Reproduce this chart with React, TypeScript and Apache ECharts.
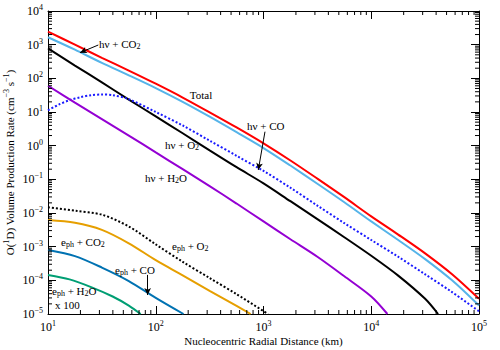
import React, { useEffect, useRef } from "react";
import * as echarts from "echarts";

const FONT = "Liberation Serif";

// x sample positions (km)
const X_MAIN = [10, 17.78, 31.62, 56.23, 100, 177.8, 316.2, 562.3, 1000, 1778, 3162, 5623, 10000, 17783, 31623, 56234, 100000];
const TOTAL = [2455, 1000, 407, 170, 69.2, 26.9, 9.77, 3.47, 1.17, 0.363, 0.105, 0.0295, 7.94e-3, 2.29e-3, 6.31e-4, 1.51e-4, 2.82e-5];
const HV_CO2 = [1660, 708, 288, 123, 51.3, 19.95, 7.24, 2.51, 0.851, 0.257, 0.0741, 0.0209, 5.62e-3, 1.58e-3, 4.27e-4, 1.0e-4, 1.78e-5];

const X_O2 = [10, 17.78, 31.62, 56.23, 100, 177.8, 316.2, 562.3, 1000, 1778, 3162, 5623, 10000, 17783, 31623, 41700];
const HV_O2 = [776, 240, 75.9, 23.4, 7.41, 2.34, 0.724, 0.229, 0.0759, 0.0224, 6.61e-3, 1.91e-3, 5.37e-4, 1.38e-4, 2.82e-5, 1.0e-5];

const X_CO = [10, 12.59, 15.85, 19.95, 25.12, 31.62, 39.81, 56.23, 100, 177.8, 316.2, 562.3, 1000, 1778, 3162, 5623, 10000, 17783, 31623, 56234, 100000];
const HV_CO = [11.2, 16.6, 22.4, 27.5, 31.6, 33.1, 31.6, 24.0, 10.0, 3.98, 1.41, 0.501, 0.178, 0.0562, 0.0166, 5.01e-3, 1.58e-3, 5.01e-4, 1.51e-4, 4.47e-5, 1.2e-5];

const X_H2O = [10, 17.78, 31.62, 56.23, 100, 177.8, 316.2, 562.3, 1000, 1778, 3162, 5623, 10000, 14125];
const HV_H2O = [60.3, 19.05, 6.17, 2.0, 0.631, 0.2, 0.0631, 0.0191, 5.62e-3, 1.66e-3, 5.01e-4, 1.32e-4, 3.31e-5, 1.0e-5];

const X_EO2 = [10, 17.78, 31.62, 56.23, 100, 177.8, 316.2, 562.3, 1100];
const E_O2 = [0.0148, 0.0117, 8.91e-3, 3.98e-3, 1.17e-3, 3.55e-4, 1.17e-4, 3.89e-5, 1.0e-5];

const X_ECO2 = [10, 17.78, 31.62, 56.23, 100, 177.8, 316.2, 562.3, 759];
const E_CO2 = [6.17e-3, 5.13e-3, 3.16e-3, 1.26e-3, 3.98e-4, 1.41e-4, 4.9e-5, 1.74e-5, 1.0e-5];

const X_ECO = [10, 17.78, 31.62, 56.23, 100, 181];
const E_CO = [7.94e-4, 5.25e-4, 2.4e-4, 9.55e-5, 3.02e-5, 1.0e-5];

const X_EH2O = [10, 15.85, 25.12, 39.81, 56.23, 72.4];
const E_H2O = [1.45e-4, 1.07e-4, 6.31e-5, 3.31e-5, 1.78e-5, 1.0e-5];

const X_MIN = 10;
const X_MAX = 100000;
const Y_MIN = 1e-5;
const Y_MAX = 1e4;
const X_DECADES = [10, 100, 1000, 10000];
const Y_DECADES = [1e-5, 1e-4, 1e-3, 1e-2, 1e-1, 1, 10, 100, 1000];
const MINOR_MULT = [2, 3, 4, 5, 6, 7, 8, 9];

// arrows (data coords): [from, to]
const ARROWS = [
  [[29.3, 977], [19.8, 578]],
  [[1032, 2.6], [895, 0.19]],
  [[84.1, 1.45e-4], [84.1, 3.67e-5]],
];

const pair = (xs: number[], ys: number[]) => xs.map((x, i) => [x, ys[i]]);

// rich styles for axis labels (echarts model uses `color`)
const richAxis = {
  b: { fontFamily: FONT, fontSize: 12, color: "#000", lineHeight: 15, verticalAlign: "middle" },
  sup: { fontFamily: FONT, fontSize: 8, color: "#000", lineHeight: 8, verticalAlign: "top" },
};

// rich styles for graphic texts (zrender uses `fill`)
const richG = {
  b: { fontFamily: FONT, fontSize: 11, fill: "#000", lineHeight: 13, verticalAlign: "middle" },
  sub: { fontFamily: FONT, fontSize: 8, fill: "#000", lineHeight: 6, verticalAlign: "bottom" },
};

const supLabel = (v: number) => {
  const e = Math.round(Math.log10(v));
  const s = e < 0 ? "\u2212" + -e : String(e);
  return "{b|10}{sup|" + s + "}";
};

const LABELS = [
  { t: "{b|h\u03bd + CO}{sub|2}", x: 99, y: 44, a: "left" },
  { t: "{b|Total}", x: 201, y: 95, a: "center" },
  { t: "{b|h\u03bd + CO}", x: 247, y: 126, a: "left" },
  { t: "{b|h\u03bd + O}{sub|2}", x: 165, y: 145, a: "left" },
  { t: "{b|h\u03bd + H}{sub|2}{b|O}", x: 145, y: 178, a: "left" },
  { t: "{b|e}{sub|ph}{b| + O}{sub|2}", x: 172, y: 246, a: "left" },
  { t: "{b|e}{sub|ph}{b| + CO}{sub|2}", x: 61, y: 242, a: "left" },
  { t: "{b|e}{sub|ph}{b| + CO}", x: 115, y: 270, a: "left" },
  { t: "{b|e}{sub|ph}{b| + H}{sub|2}{b|O}", x: 52, y: 291, a: "left" },
  { t: "{b|x 100}", x: 55, y: 305, a: "left" },
];

export default function App() {
  const ref = useRef<HTMLDivElement>(null);
  useEffect(() => {
    if (!ref.current) return;
    const chart = echarts.init(ref.current, null, { renderer: "svg" });

    const xMinor: number[][] = [];
    X_DECADES.forEach((d) => MINOR_MULT.forEach((m) => xMinor.push([d * m, Y_MIN])));
    const yMinor: number[][] = [];
    Y_DECADES.forEach((d) => MINOR_MULT.forEach((m) => yMinor.push([X_MIN, d * m])));

    const lineSeries = (name: string, data: number[][], color: string, dotted = false) => ({
      type: "line",
      name,
      data,
      showSymbol: false,
      smooth: 0.3,
      clip: true,
      lineStyle: { color, width: 2, type: dotted ? [2, 2] : "solid" },
      silent: true,
      z: 3,
    });

    const axisCommon = {
      type: "log",
      logBase: 10,
      interval: 1,
      nameMoveOverlap: false,
      axisLine: { show: true, lineStyle: { color: "#000", width: 1 } },
      axisTick: { show: true, inside: true, length: 8, lineStyle: { color: "#000", width: 1 } },
      splitLine: { show: false },
      minorTick: { show: false },
    };

    const option: any = {
      animation: false,
      grid: { left: 48, right: 21, top: 11, bottom: 36, containLabel: false, outerBoundsMode: "none" },
      xAxis: [
        {
          ...axisCommon,
          position: "bottom",
          min: X_MIN,
          max: X_MAX,
          name: "Nucleocentric Radial Distance (km)",
          nameLocation: "middle",
          nameGap: 21,
          nameTextStyle: { fontFamily: FONT, fontSize: 11, color: "#000" },
          axisLabel: { margin: 5, formatter: supLabel, rich: richAxis, color: "#000" },
        },
        {
          ...axisCommon,
          position: "top",
          min: X_MIN,
          max: X_MAX,
          axisLabel: { show: false },
        },
      ],
      yAxis: [
        {
          ...axisCommon,
          position: "left",
          min: Y_MIN,
          max: Y_MAX,
          name: "O({sup|1}D) Volume Production Rate (cm{sup|\u22123} s{sup|\u22121})",
          nameLocation: "middle",
          nameGap: 31,
          nameTextStyle: {
            fontFamily: FONT,
            fontSize: 11,
            color: "#000",
            rich: {
              sup: { fontFamily: FONT, fontSize: 8, color: "#000", lineHeight: 8, verticalAlign: "top" },
            },
            lineHeight: 15,
          },
          axisLabel: { margin: 5, formatter: supLabel, rich: richAxis, color: "#000" },
        },
        {
          ...axisCommon,
          position: "right",
          min: Y_MIN,
          max: Y_MAX,
          axisLabel: { show: false },
        },
      ],
      series: [
        {
          ...lineSeries("Total", pair(X_MAIN, TOTAL), "#ff0000"),
          markLine: {
            silent: true,
            symbol: ["none", "arrow"],
            symbolSize: [5, 7],
            label: { show: false },
            lineStyle: { color: "#000", width: 1, type: "solid" },
            data: ARROWS.map((a) => [{ coord: a[0] }, { coord: a[1] }]),
          },
        },
        lineSeries("hv + CO2", pair(X_MAIN, HV_CO2), "#56b4e9"),
        lineSeries("hv + O2", pair(X_O2, HV_O2), "#000000"),
        lineSeries("hv + CO", pair(X_CO, HV_CO), "#1a1aff", true),
        lineSeries("hv + H2O", pair(X_H2O, HV_H2O), "#9400d3"),
        lineSeries("eph + O2", pair(X_EO2, E_O2), "#000000", true),
        lineSeries("eph + CO2", pair(X_ECO2, E_CO2), "#e69f00"),
        lineSeries("eph + CO", pair(X_ECO, E_CO), "#0072b2"),
        lineSeries("eph + H2O x100", pair(X_EH2O, E_H2O), "#009e73"),
        {
          type: "custom",
          silent: true,
          data: xMinor,
          z: 5,
          renderItem: (params: any, api: any) => {
            const v = api.value(0);
            const pb = api.coord([v, Y_MIN]);
            const pt = api.coord([v, Y_MAX]);
            return {
              type: "group",
              children: [
                { type: "line", shape: { x1: pb[0], y1: pb[1], x2: pb[0], y2: pb[1] - 4 }, style: { stroke: "#000", lineWidth: 1 } },
                { type: "line", shape: { x1: pt[0], y1: pt[1], x2: pt[0], y2: pt[1] + 4 }, style: { stroke: "#000", lineWidth: 1 } },
              ],
            };
          },
        },
        {
          type: "custom",
          silent: true,
          data: yMinor,
          z: 5,
          renderItem: (params: any, api: any) => {
            const v = api.value(1);
            const pl = api.coord([X_MIN, v]);
            const pr = api.coord([X_MAX, v]);
            return {
              type: "group",
              children: [
                { type: "line", shape: { x1: pl[0], y1: pl[1], x2: pl[0] + 4, y2: pl[1] }, style: { stroke: "#000", lineWidth: 1 } },
                { type: "line", shape: { x1: pr[0], y1: pr[1], x2: pr[0] - 4, y2: pr[1] }, style: { stroke: "#000", lineWidth: 1 } },
              ],
            };
          },
        },
      ],
      graphic: LABELS.map((g) => ({
        type: "text",
        x: g.x,
        y: g.y,
        z: 10,
        silent: true,
        style: {
          text: g.t,
          rich: richG,
          fontFamily: FONT,
          fontSize: 11,
          fill: "#000",
          align: g.a,
          verticalAlign: "middle",
        },
      })),
    };

    chart.setOption(option);
    return () => chart.dispose();
  }, []);

  return (
    <div
      ref={ref}
      style={{ position: "fixed", left: 0, top: 0, width: 500, height: 350, background: "#fff" }}
    />
  );
}
